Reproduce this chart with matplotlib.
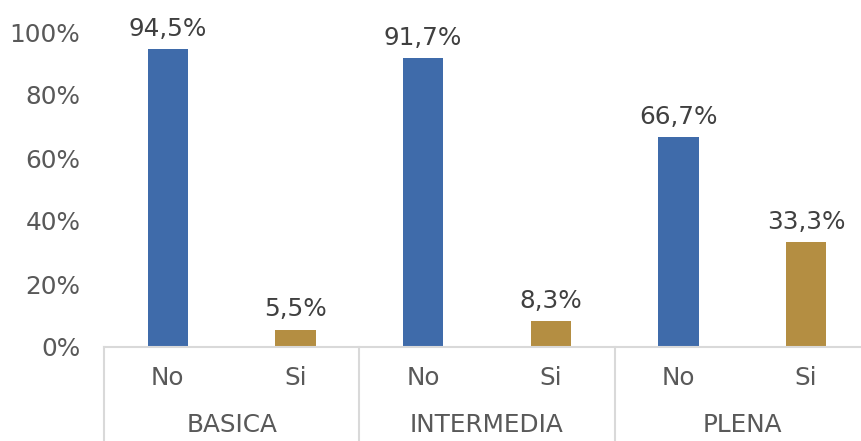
import matplotlib.pyplot as plt
from matplotlib.ticker import FuncFormatter

plt.rcParams["font.family"] = ["DejaVu Sans"]

groups = ["BASICA", "INTERMEDIA", "PLENA"]
answers = ["No", "Si"]
values = [0.945, 0.055, 0.917, 0.083, 0.667, 0.333]
labels = ["94,5%", "5,5%", "91,7%", "8,3%", "66,7%", "33,3%"]
colors = ["#3F6BAA", "#B48E42"]

txt = "#595959"
line = "#D9D9D9"
fs = 17.8

fig = plt.figure(figsize=(8.62, 4.41), dpi=100)
# axis runs a little past the right edge of the image, as in the original
ax = fig.add_axes([104 / 862, 1 - 347 / 441, 766 / 862, 315 / 441])

x = list(range(len(values)))
bar_colors = [colors[i % 2] for i in x]
bars = ax.bar(x, values, width=0.315, color=bar_colors)

for b, lab in zip(bars, labels):
    ax.annotate(lab, (b.get_x() + b.get_width() / 2, b.get_height()),
                xytext=(0, 6), textcoords="offset points",
                ha="center", va="bottom", fontsize=fs, color="#404040")

ax.set_xlim(-0.5, len(values) - 0.5)
ax.set_ylim(0, 1.0)
ax.set_yticks([0, 0.2, 0.4, 0.6, 0.8, 1.0])
ax.yaxis.set_major_formatter(FuncFormatter(lambda v, _: f"{v * 100:.0f}%"))
ax.tick_params(axis="y", length=0, pad=17, labelsize=fs, labelcolor=txt)
ax.set_xticks([])

for s in ["top", "right", "left"]:
    ax.spines[s].set_visible(False)
ax.spines["bottom"].set_color(line)
ax.spines["bottom"].set_linewidth(1.5)

trans = ax.get_xaxis_transform()
bottom = -(441 - 347) / 315
for i in x:
    ax.text(i, -0.098, answers[i % 2], transform=trans, ha="center", va="center",
            fontsize=fs, color=txt)
for g, name in enumerate(groups):
    ax.text(2 * g + 0.5, -0.248, name, transform=trans, ha="center", va="center",
            fontsize=fs, color=txt)
for k in range(len(groups) + 1):
    ax.plot([2 * k - 0.5, 2 * k - 0.5], [0, bottom], transform=trans,
            color=line, lw=1.5, clip_on=False)

fig.savefig("out.png", dpi=100)
